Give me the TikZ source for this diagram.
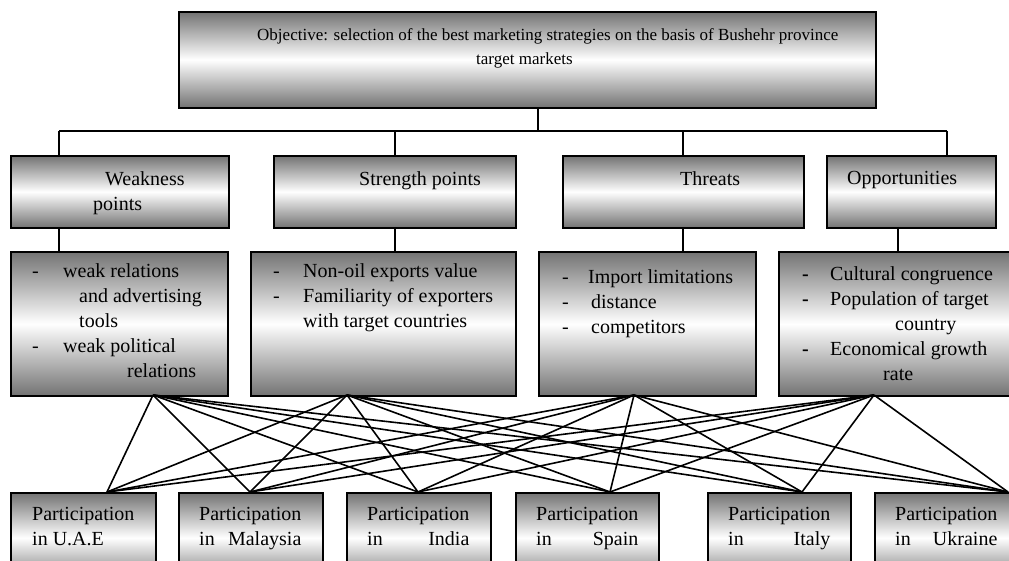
\documentclass[tikz,border=0pt]{standalone}
\usepackage{fontspec}
\usepackage{calc}
\setmainfont{Liberation Serif}
\newcommand{\partin}[1]{Participation\\\makebox[\widthof{Participation}]{in\hfill #1}}

\begin{document}
\begin{tikzpicture}[x=1pt,y=-1pt,
  box/.style={draw, line width=1.6pt, shading=axis, top color=black!55,
    bottom color=black!55, middle color=white, anchor=north west, inner sep=0},
  txt/.style={anchor=north west, align=left, inner sep=0,
    font=\fontsize{20}{25}\selectfont},
  link/.style={line width=1.6pt}]
\useasboundingbox (0,0) rectangle (1009,561);
\clip (0,0) rectangle (1009,561);

% boxes
\node[box, minimum width=697pt, minimum height=96pt] (obj) at (178,11) {};

\node[box, minimum width=218pt, minimum height=72pt] (w2) at (10,155) {};
\node[box, minimum width=242pt, minimum height=72pt] (s2) at (273,155) {};
\node[box, minimum width=241pt, minimum height=72pt] (t2) at (562,155) {};
\node[box, minimum width=169pt, minimum height=72pt] (o2) at (826,155) {};

\node[box, minimum width=217pt, minimum height=144pt] (w3) at (10,251) {};
\node[box, minimum width=265pt, minimum height=144pt] (s3) at (250,251) {};
\node[box, minimum width=217pt, minimum height=144pt] (t3) at (538,251) {};
\node[box, minimum width=240pt, minimum height=144pt] (o3) at (778,251) {};

\node[box, minimum width=145pt, minimum height=90pt] (b1) at (10,492) {};
\node[box, minimum width=144pt, minimum height=90pt] (b2) at (178,492) {};
\node[box, minimum width=144pt, minimum height=90pt] (b3) at (346,492) {};
\node[box, minimum width=143pt, minimum height=90pt] (b4) at (515,492) {};
\node[box, minimum width=143pt, minimum height=90pt] (b5) at (707,492) {};
\node[box, minimum width=145pt, minimum height=90pt] (b6) at (874,492) {};

% texts
\node[txt, font=\fontsize{17}{24}\selectfont] (objtxt) at (257,28)
  {Objective: selection of the best marketing strategies on the basis of Bushehr province\\
   \hspace*{219pt}target markets};

\node[txt] (w2txt) at (93,171) {\hspace*{12pt}Weakness\\points};
\node[txt] (s2txt) at (359,171) {Strength points};
\node[txt] (t2txt) at (680,171) {Threats};
\node[txt] (o2txt) at (847,171) {Opportunities};

\node[txt] (w3txt) at (32,263) {\makebox[31pt][l]{-}weak relations\\
  \hspace*{47pt}and advertising\\
  \hspace*{47pt}tools\\
  \makebox[31pt][l]{-}weak political\\
  \hspace*{95pt}relations};
\node[txt] (s3txt) at (273,263) {\makebox[30pt][l]{-}Non-oil exports value\\
  \makebox[30pt][l]{-}Familiarity of exporters\\
  \hspace*{30pt}with target countries};
\node[txt] (t3txt) at (562,269) {\makebox[26pt][l]{-}Import limitations\\
  \makebox[29pt][l]{-}distance\\
  \makebox[29pt][l]{-}competitors};
\node[txt] (o3txt) at (802,266) {\makebox[28pt][l]{\textbf{-}}Cultural congruence\\
  \makebox[28pt][l]{\textbf{-}}Population of target\\
  \hspace*{93pt}country\\
  \makebox[28pt][l]{\textbf{-}}Economical growth\\
  \hspace*{81pt}rate};

\node[txt] (b1txt) at (32,507) {Participation\\in U.A.E};
\node[txt] (b2txt) at (199,507) {\partin{Malaysia}};
\node[txt] (b3txt) at (367,507) {\partin{India}};
\node[txt] (b4txt) at (536,507) {\partin{Spain}};
\node[txt] (b5txt) at (728,507) {\partin{Italy}};
\node[txt] (b6txt) at (895,507) {\partin{Ukraine}};

% tree
\coordinate (root) at (538,131);
\coordinate (wbus) at (59,131);
\coordinate (sbus) at (395,131);
\coordinate (tbus) at (683,131);
\coordinate (obus) at (947,131);
\draw[link] (obj.south -| root) -- (root);
\draw[link] (wbus) -- (obus);
\draw[link] (wbus) -- (wbus |- w2.north);
\draw[link] (sbus) -- (sbus |- s2.north);
\draw[link] (tbus) -- (tbus |- t2.north);
\draw[link] (obus) -- (obus |- o2.north);

\coordinate (wdown) at (59,227);
\coordinate (sdown) at (395,227);
\coordinate (tdown) at (683,227);
\coordinate (odown) at (898,227);
\draw[link] (wdown) -- (wdown |- w3.north);
\draw[link] (sdown) -- (sdown |- s3.north);
\draw[link] (tdown) -- (tdown |- t3.north);
\draw[link] (odown) -- (odown |- o3.north);

% fan
\foreach \x [count=\i] in {153,347,634,874}
  \coordinate (f\i) at (\x,395);
\foreach \x [count=\j] in {107,250,418,610,802,1008}
  \coordinate (p\j) at (\x,492);
\foreach \i in {1,...,4}
  \foreach \j in {1,...,6}
    \draw[link] (f\i) -- (p\j);
\end{tikzpicture}
\end{document}
